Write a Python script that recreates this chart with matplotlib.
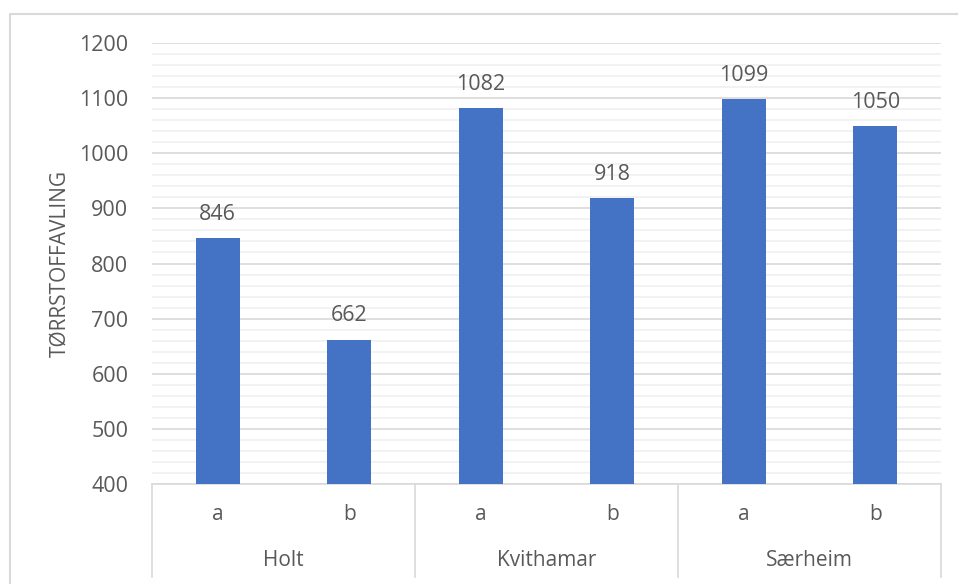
import matplotlib.pyplot as plt
from matplotlib.lines import Line2D
from matplotlib.ticker import MultipleLocator

# yield per site and treatment
sites = ['Holt', 'Kvithamar', 'Særheim']
treatments = ['a', 'b']
yields = [846, 662, 1082, 918, 1099, 1050]
ylabel = 'TØRRSTOFFAVLING'

plt.rcParams['font.family'] = ['Open Sans', 'DejaVu Sans']
text_color = '#595959'
bar_color = '#4472C4'

W, H = 958, 584
fig = plt.figure(figsize=(W / 100, H / 100), dpi=100)
left, right, top, bottom = 152, 941, 43, 484
ax = fig.add_axes([left / W, 1 - bottom / H, (right - left) / W, (bottom - top) / H])

x = list(range(len(yields)))
ax.bar(x, yields, width=0.335, color=bar_color, zorder=3)
ax.set_xlim(-0.5, len(yields) - 0.5)
ax.set_ylim(400, 1200)

# value labels above the bars
for xi, v in zip(x, yields):
    ax.annotate(str(v), (xi, v), xytext=(0, 17), textcoords='offset points',
                ha='center', va='center', fontsize=15.5, color=text_color)

# grid: major every 100, minor every 20
ax.yaxis.set_major_locator(MultipleLocator(100))
ax.yaxis.set_minor_locator(MultipleLocator(20))
ax.grid(which='major', axis='y', color='#d9d9d9', linewidth=1.2, zorder=0)
ax.grid(which='minor', axis='y', color='#f0f0f0', linewidth=1.2, zorder=0)
ax.tick_params(axis='y', which='both', length=0, labelsize=15.5,
               labelcolor=text_color, pad=17)
ax.set_xticks([])
for s in ['top', 'right', 'left']:
    ax.spines[s].set_visible(False)
ax.spines['bottom'].set_color('#d9d9d9')
ax.spines['bottom'].set_linewidth(1.2)

ax.set_ylabel(ylabel, fontsize=15, color=text_color, labelpad=6)

# two-level category axis below the plot
tr = ax.get_xaxis_transform()
box_bottom = -(577 - bottom) / (bottom - top)
for xb in [-0.5, 1.5, 3.5, 5.5]:
    ax.add_line(Line2D([xb, xb], [0, box_bottom], transform=tr, color='#d9d9d9',
                       linewidth=1.2, clip_on=False))
for i, v in enumerate(yields):
    ax.text(i, -(515 - bottom) / (bottom - top), treatments[i % 2], transform=tr,
            ha='center', va='center', fontsize=15, color=text_color)
for j, site in enumerate(sites):
    ax.text(2 * j + 0.5, -(560 - bottom) / (bottom - top), site, transform=tr,
            ha='center', va='center', fontsize=15, color=text_color)

# chart border
fig.add_artist(Line2D([10 / W, 10 / W, 1], [0, 1 - 14 / H, 1 - 14 / H],
                      transform=fig.transFigure, color='#d9d9d9', linewidth=1.5))

fig.savefig('out.png', dpi=100, facecolor='white')
